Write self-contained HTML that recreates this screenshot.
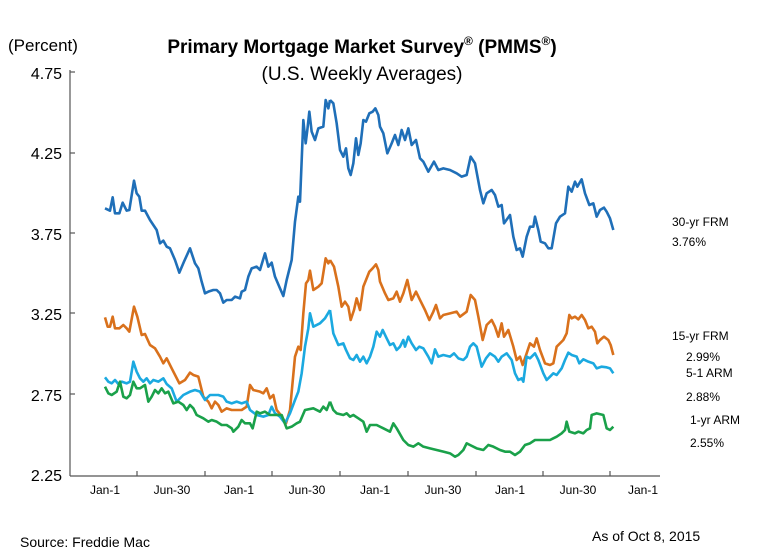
<!DOCTYPE html>
<html><head><style>
html,body{margin:0;padding:0;background:#fff;}
svg text{font-family:"Liberation Sans",Arial,sans-serif;fill:#000;}
</style></head><body>
<svg width="762" height="553" viewBox="0 0 762 553" xmlns="http://www.w3.org/2000/svg">
<rect width="762" height="553" fill="#fff"/>
<text x="8" y="51" font-size="17">(Percent)</text>
<text x="362" y="53" font-size="19" font-weight="bold" text-anchor="middle">Primary Mortgage Market Survey<tspan font-size="12" dy="-8">®</tspan><tspan dy="8"> (PMMS</tspan><tspan font-size="12" dy="-8">®</tspan><tspan dy="8">)</tspan></text>
<text x="362" y="80" font-size="19" text-anchor="middle">(U.S. Weekly Averages)</text>
<g font-size="16" text-anchor="end">
<text x="62" y="79">4.75</text><text x="62" y="159">4.25</text><text x="62" y="240">3.75</text>
<text x="62" y="320">3.25</text><text x="62" y="401">2.75</text><text x="62" y="481">2.25</text>
</g>
<g stroke="#555" stroke-width="1.2" fill="none">
<line x1="70" y1="70" x2="70" y2="476"/>
<line x1="70" y1="476" x2="660" y2="476"/>
<line x1="70" y1="72" x2="75" y2="72"/><line x1="70" y1="153" x2="75" y2="153"/><line x1="70" y1="233" x2="75" y2="233"/>
<line x1="70" y1="313" x2="75" y2="313"/><line x1="70" y1="394" x2="75" y2="394"/>
<line x1="137" y1="471" x2="137" y2="476"/><line x1="205" y1="471" x2="205" y2="476"/><line x1="272" y1="471" x2="272" y2="476"/>
<line x1="340" y1="471" x2="340" y2="476"/><line x1="408" y1="471" x2="408" y2="476"/><line x1="476" y1="471" x2="476" y2="476"/>
<line x1="543" y1="471" x2="543" y2="476"/><line x1="610" y1="471" x2="610" y2="476"/>
</g>
<g font-size="12" text-anchor="middle">
<text x="105" y="494">Jan-1</text><text x="172" y="494">Jun-30</text><text x="239" y="494">Jan-1</text>
<text x="307" y="494">Jun-30</text><text x="375" y="494">Jan-1</text><text x="443" y="494">Jun-30</text>
<text x="510" y="494">Jan-1</text><text x="578" y="494">Jun-30</text><text x="643" y="494">Jan-1</text>
</g>
<g fill="none" stroke-width="2.6" stroke-linejoin="round">
<g transform="translate(60,80) scale(0.33333)">
<polyline vector-effect="non-scaling-stroke" stroke="#1f6fb8" points="135,385 150,392 158,352 165,400 178,400 188,368 200,392 208,390 222,302 230,340 238,350 245,392 255,392 270,420 290,450 300,490 310,482 320,500 330,505 345,540 358,578 372,545 390,505 405,550 415,565 425,605 435,640 445,635 460,630 470,630 480,640 490,668 500,660 515,660 525,650 540,655 545,635 555,630 565,590 575,565 590,560 600,570 615,520 625,560 635,548 645,590 660,625 670,648 680,600 695,540 705,425 715,350 720,365 730,120 737,190 742,150 748,95 755,155 765,180 775,145 790,140 797,60 805,85 810,60"/>
<polyline vector-effect="non-scaling-stroke" stroke="#d9711c" points="135,712 143,740 150,740 158,710 165,745 178,745 190,735 200,745 208,755 222,680 232,710 245,765 255,762 270,795 285,805 300,830 310,850 320,835 335,865 358,910 375,900 390,878 400,885 415,890 430,950 445,965 455,985 465,965 475,975 485,995 500,985 515,990 530,990 545,990 560,980 570,915 580,930 600,935 610,940 620,925 630,955 640,945 650,990 662,1005 678,1030 690,990 705,830 715,800 722,810 730,700 738,610 745,600 750,572 760,630 775,620 785,610 797,535 805,550 810,540"/>
<polyline vector-effect="non-scaling-stroke" stroke="#1ba9e0" points="135,892 145,905 155,910 165,900 175,912 185,905 200,910 210,905 220,845 230,875 240,895 250,905 260,895 270,910 280,900 295,905 310,895 320,912 335,925 350,965 370,945 390,935 405,930 420,935 435,960 450,945 460,945 475,945 490,950 500,965 515,970 530,965 545,970 560,965 570,990 590,1005 610,1010 625,1005 635,980 645,1000 660,1010 675,1030 690,1000 705,960 715,935 725,880 735,800 745,745 750,700 760,740 780,730 795,715 810,690"/>
<polyline vector-effect="non-scaling-stroke" stroke="#1aa14a" points="135,920 145,940 155,945 170,935 180,905 190,950 200,955 210,945 220,905 230,925 240,925 255,915 265,965 275,950 285,930 295,940 305,925 315,940 325,935 340,970 355,965 370,975 380,990 390,975 400,985 410,1005 430,1015 445,1025 455,1020 470,1025 485,1035 500,1035 515,1045 520,1055 535,1040 545,1020 555,1030 570,1030 578,1045 590,995 600,1000 615,995 630,1005 650,1005 665,1005 680,1045 695,1040 710,1030 720,1025 735,990 760,985 780,995 790,980 800,990 810,965"/>
</g>
<g transform="translate(330,80) scale(0.33333)">
<polyline vector-effect="non-scaling-stroke" stroke="#1f6fb8" points="0,60 10,70 20,130 30,210 40,230 48,205 55,265 62,285 70,250 78,175 85,225 92,190 100,120 108,125 118,100 128,95 136,85 145,105 150,140 160,160 172,220 185,190 195,165 205,195 215,150 225,180 235,145 245,195 258,180 270,235 280,245 295,275 312,245 325,270 340,265 360,270 380,280 395,290 410,285 422,230 435,250 450,330 460,370 470,340 485,330 495,345 505,380 515,375 522,430 540,405 550,470 560,510 570,505 578,530 590,470 600,440 610,440 615,410 625,450 632,485 645,490 655,505 665,505 678,430 690,410 705,400 715,320 725,335 735,305 742,320 755,298 765,340 778,375 790,370 800,410 810,390 822,383 830,395 840,415 850,450"/>
<polyline vector-effect="non-scaling-stroke" stroke="#d9711c" points="0,540 12,560 25,620 35,680 45,665 55,680 62,720 72,690 80,655 90,690 100,620 108,600 118,575 128,565 138,553 145,570 150,605 165,640 175,660 190,655 200,635 210,665 220,640 232,600 245,660 258,635 270,660 285,690 298,720 310,695 318,675 330,715 340,705 360,700 380,695 390,710 410,695 422,645 435,660 445,710 458,780 470,735 485,720 495,740 505,770 515,730 522,770 535,750 550,800 560,840 570,830 578,855 590,820 600,790 612,800 620,775 630,810 645,850 660,855 670,850 680,800 700,780 710,760 718,705 725,715 735,710 745,718 755,705 765,720 775,745 785,740 795,755 802,790 810,780 822,770 835,780 842,795 850,825"/>
<polyline vector-effect="non-scaling-stroke" stroke="#1ba9e0" points="0,690 10,760 25,795 40,790 48,810 60,835 70,840 80,825 90,845 100,830 110,850 120,830 130,800 140,755 150,770 158,750 170,775 180,795 190,790 200,810 210,800 220,780 225,800 235,770 245,790 258,810 268,800 280,805 295,830 305,850 315,808 325,830 340,825 360,830 372,820 385,835 400,840 410,830 420,800 430,790 440,800 455,860 468,835 480,820 495,830 505,845 515,830 530,820 545,840 555,880 565,900 575,895 580,905 590,830 600,835 615,820 625,840 640,880 650,900 660,890 670,880 680,885 695,865 705,840 715,818 725,825 740,830 748,850 760,838 775,845 790,850 800,865 815,860 830,862 840,865 850,880"/>
<polyline vector-effect="non-scaling-stroke" stroke="#1aa14a" points="0,965 10,990 20,1000 40,1005 50,1000 60,1010 70,1005 85,1015 100,1025 110,1055 120,1035 140,1035 160,1045 180,1055 190,1030 200,1045 220,1080 235,1095 250,1100 265,1090 280,1100 300,1105 320,1110 340,1115 360,1120 375,1130 385,1125 400,1110 410,1090 420,1095 440,1105 460,1110 475,1095 490,1100 510,1110 525,1115 540,1115 555,1125 570,1115 585,1095 600,1090 615,1080 640,1080 660,1080 670,1075 680,1070 695,1060 705,1050 710,1025 718,1055 735,1060 745,1055 760,1060 770,1050 780,1045 785,1005 800,1000 820,1005 830,1045 840,1050 850,1040"/>
</g>
</g>
<g font-size="12">
<text x="672" y="226">30-yr FRM</text><text x="672" y="246">3.76%</text>
<text x="672" y="340">15-yr FRM</text><text x="686" y="361">2.99%</text>
<text x="686" y="377">5-1 ARM</text><text x="686" y="401">2.88%</text>
<text x="690" y="424">1-yr ARM</text><text x="690" y="447">2.55%</text>
</g>
<text x="20" y="547" font-size="14">Source: Freddie Mac</text>
<text x="592" y="541" font-size="14">As of Oct 8, 2015</text>
</svg>
</body></html>
